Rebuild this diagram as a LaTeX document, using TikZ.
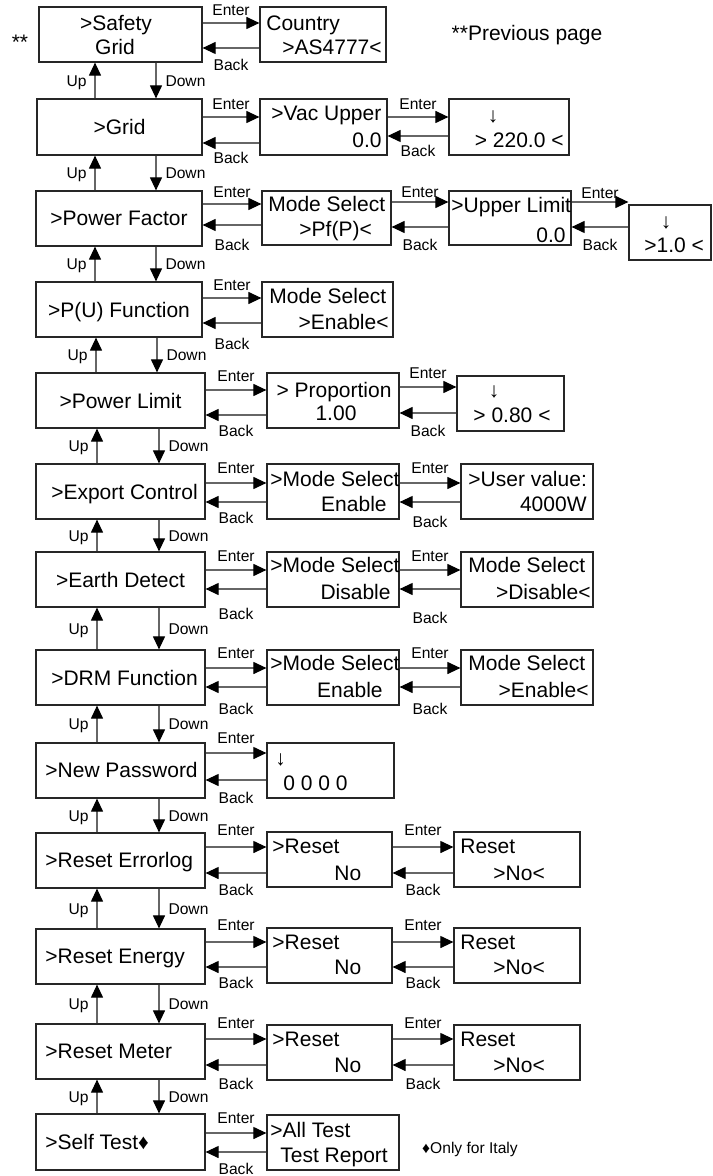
\documentclass[tikz,border=0pt]{standalone}
\usepackage{fontspec}
\setmainfont{Liberation Sans}
\usetikzlibrary{arrows.meta,fit}

\tikzset{
  menubox/.style={draw=black!85,line width=0.6pt,inner sep=0pt,fit={#1}},
  txt/.style={font=\fontsize{10.5}{12}\selectfont,inner sep=0pt,text height=7.5pt,text depth=0pt},
  keylbl/.style={font=\fontsize{7.8}{9}\selectfont,inner sep=0pt,text height=5.6pt,text depth=0pt},
  nav/.style={draw=black!60,line width=0.55pt,-{Triangle[length=6.5pt,width=6pt,color=black]}},
}

\begin{document}
\begin{tikzpicture}[x=0.5pt,y=-0.5pt]
\useasboundingbox (0,0) rectangle (712,1176);
% menu column
\node[menubox={(39,7)(202,62)}] (L1) {};
\node[menubox={(37,99)(202,155)}] (L2) {};
\node[menubox={(36,191)(202,246)}] (L3) {};
\node[menubox={(36,282)(202,337)}] (L4) {};
\node[menubox={(36,373)(205,428)}] (L5) {};
\node[menubox={(36,464)(205,519)}] (L6) {};
\node[menubox={(36,552)(205,607)}] (L7) {};
\node[menubox={(36,650)(205,705)}] (L8) {};
\node[menubox={(36,743)(205,798)}] (L9) {};
\node[menubox={(36,833)(205,888)}] (L10) {};
\node[menubox={(36,929)(205,984)}] (L11) {};
\node[menubox={(36,1024)(205,1079)}] (L12) {};
\node[menubox={(36,1114)(205,1170)}] (L13) {};
\node[txt] (L1a) at (116,23) {>Safety};
\node[txt] (L1b) at (115,47) {Grid};
\node[txt] (L2t) at (L2.center) {>Grid};
\node[txt] (L3t) at (L3.center) {>Power Factor};
\node[txt] (L4t) at (L4.center) {>P(U) Function};
\node[txt] (L5t) at (L5.center) {>Power Limit};
\node[txt] (L6t) at ([xshift=2pt]L6.center) {>Export Control};
\node[txt] (L7t) at (L7.center) {>Earth Detect};
\node[txt] (L8t) at ([xshift=2pt]L8.center) {>DRM Function};
\node[txt,anchor=west] (L9t) at (45,770) {>New Password};
\node[txt,anchor=west] (L10t) at (45,860) {>Reset Errorlog};
\node[txt,anchor=west] (L11t) at (45,956) {>Reset Energy};
\node[txt,anchor=west] (L12t) at (45,1051) {>Reset Meter};
\node[txt,anchor=west] (L13t) at (45,1142) {>Self Test♦};
\node[txt] (star) at (20,42) {**};
\node[txt] (prev) at (527,33) {**Previous page};
\node[keylbl] (italy) at (470,1148) {♦Only for Italy};

% sub screens
\node[menubox={(260,7)(386,62)}] (M1) {};
\node[txt,anchor=west] (M1a) at (266,23) {Country};
\node[txt,anchor=west] (M1b) at (282,47) {>AS4777<};
\node[menubox={(260,99)(387,155)}] (M2) {};
\node[txt,anchor=west] (M2a) at (271,113) {>Vac Upper};
\node[txt,anchor=east] (M2b) at (382,140) {0.0};
\node[menubox={(449,99)(569,155)}] (R2) {};
\node[txt] (R2a) at (493,115) {↓};
\node[txt,anchor=east] (R2b) at (564,140) {> 220.0 <};
\node[menubox={(262,191)(391,245)}] (M3) {};
\node[txt,anchor=west] (M3a) at (268,204) {Mode Select};
\node[txt,anchor=west] (M3b) at (299,229) {>Pf(P)<};
\node[menubox={(449,191)(571,245)}] (R3) {};
\node[txt,anchor=west] (R3a) at (451,205) {>Upper Limit};
\node[txt,anchor=east] (R3b) at (566,235) {0.0};
\node[menubox={(629,205)(711,260)}] (S3) {};
\node[txt] (S3a) at (666,221) {↓};
\node[txt,anchor=west] (S3b) at (644,245) {>1.0 <};
\node[menubox={(262,282)(393,337)}] (M4) {};
\node[txt,anchor=west] (M4a) at (269,296) {Mode Select};
\node[txt,anchor=east] (M4b) at (389,322) {>Enable<};
\node[menubox={(267,373)(399,428)}] (M5) {};
\node[txt] (M5a) at (334,390) {> Proportion};
\node[txt] (M5b) at (336,413) {1.00};
\node[menubox={(457,376)(564,431)}] (R5) {};
\node[txt] (R5a) at (494,390) {↓};
\node[txt] (R5b) at (512,415) {> 0.80 <};
\node[menubox={(267,464)(399,519)}] (M6) {};
\node[txt,anchor=west] (M6a) at (270,479) {>Mode Select};
\node[txt,anchor=east] (M6b) at (387,504) {Enable};
\node[menubox={(461,464)(593,519)}] (R6) {};
\node[txt,anchor=west] (R6a) at (468,479) {>User value:};
\node[txt,anchor=east] (R6b) at (587,504) {4000W};
\node[menubox={(267,552)(399,607)}] (M7) {};
\node[txt,anchor=west] (M7a) at (270,565) {>Mode Select};
\node[txt,anchor=east] (M7b) at (391,592) {Disable};
\node[menubox={(461,552)(593,607)}] (R7) {};
\node[txt,anchor=west] (R7a) at (468,565) {Mode Select};
\node[txt,anchor=east] (R7b) at (591,592) {>Disable<};
\node[menubox={(267,650)(399,705)}] (M8) {};
\node[txt,anchor=west] (M8a) at (270,663) {>Mode Select};
\node[txt,anchor=east] (M8b) at (383,690) {Enable};
\node[menubox={(461,650)(593,705)}] (R8) {};
\node[txt,anchor=west] (R8a) at (468,663) {Mode Select};
\node[txt,anchor=east] (R8b) at (589,690) {>Enable<};
\node[menubox={(267,743)(394,798)}] (M9) {};
\node[txt,anchor=west] (M9a) at (275,758) {↓};
\node[txt,anchor=west] (M9b) at (283,783) {0 0 0 0};
\node[menubox={(267,832)(392,887)}] (M10) {};
\node[txt,anchor=west] (M10a) at (272,846) {>Reset};
\node[txt,anchor=west] (M10b) at (334,873) {No};
\node[menubox={(454,832)(580,887)}] (R10) {};
\node[txt,anchor=west] (R10a) at (460,846) {Reset};
\node[txt,anchor=west] (R10b) at (493,873) {>No<};
\node[menubox={(267,928)(392,983)}] (M11) {};
\node[txt,anchor=west] (M11a) at (272,942) {>Reset};
\node[txt,anchor=west] (M11b) at (334,967) {No};
\node[menubox={(454,928)(580,983)}] (R11) {};
\node[txt,anchor=west] (R11a) at (460,942) {Reset};
\node[txt,anchor=west] (R11b) at (493,967) {>No<};
\node[menubox={(267,1025)(392,1080)}] (M12) {};
\node[txt,anchor=west] (M12a) at (272,1039) {>Reset};
\node[txt,anchor=west] (M12b) at (334,1065) {No};
\node[menubox={(454,1025)(580,1080)}] (R12) {};
\node[txt,anchor=west] (R12a) at (460,1039) {Reset};
\node[txt,anchor=west] (R12b) at (493,1065) {>No<};
\node[menubox={(267,1115)(399,1170)}] (M13) {};
\node[txt,anchor=west] (M13a) at (270,1130) {>All Test};
\node[txt,anchor=west] (M13b) at (280,1155) {Test Report};

% up / down
\draw[nav] (L2.north -| 95,0) -- node[keylbl,left=4pt]{Up} (L1.south -| 95,0);
\draw[nav] (L1.south -| 156,0) -- node[keylbl,right=4.5pt]{Down} (L2.north -| 156,0);
\draw[nav] (L3.north -| 95,0) -- node[keylbl,left=4pt]{Up} (L2.south -| 95,0);
\draw[nav] (L2.south -| 156,0) -- node[keylbl,right=4.5pt]{Down} (L3.north -| 156,0);
\draw[nav] (L4.north -| 95,0) -- node[keylbl,left=4pt]{Up} (L3.south -| 95,0);
\draw[nav] (L3.south -| 156,0) -- node[keylbl,right=4.5pt]{Down} (L4.north -| 156,0);
\draw[nav] (L5.north -| 96,0) -- node[keylbl,left=4pt]{Up} (L4.south -| 96,0);
\draw[nav] (L4.south -| 157,0) -- node[keylbl,right=4.5pt]{Down} (L5.north -| 157,0);
\draw[nav] (L6.north -| 97,0) -- node[keylbl,left=4pt]{Up} (L5.south -| 97,0);
\draw[nav] (L5.south -| 159,0) -- node[keylbl,right=4.5pt]{Down} (L6.north -| 159,0);
\draw[nav] (L7.north -| 97,0) -- node[keylbl,left=4pt]{Up} (L6.south -| 97,0);
\draw[nav] (L6.south -| 159,0) -- node[keylbl,right=4.5pt]{Down} (L7.north -| 159,0);
\draw[nav] (L8.north -| 97,0) -- node[keylbl,left=4pt]{Up} (L7.south -| 97,0);
\draw[nav] (L7.south -| 159,0) -- node[keylbl,right=4.5pt]{Down} (L8.north -| 159,0);
\draw[nav] (L9.north -| 97,0) -- node[keylbl,left=4pt]{Up} (L8.south -| 97,0);
\draw[nav] (L8.south -| 159,0) -- node[keylbl,right=4.5pt]{Down} (L9.north -| 159,0);
\draw[nav] (L10.north -| 97,0) -- node[keylbl,left=4pt]{Up} (L9.south -| 97,0);
\draw[nav] (L9.south -| 159,0) -- node[keylbl,right=4.5pt]{Down} (L10.north -| 159,0);
\draw[nav] (L11.north -| 97,0) -- node[keylbl,left=4pt]{Up} (L10.south -| 97,0);
\draw[nav] (L10.south -| 159,0) -- node[keylbl,right=4.5pt]{Down} (L11.north -| 159,0);
\draw[nav] (L12.north -| 97,0) -- node[keylbl,left=4pt]{Up} (L11.south -| 97,0);
\draw[nav] (L11.south -| 159,0) -- node[keylbl,right=4.5pt]{Down} (L12.north -| 159,0);
\draw[nav] (L13.north -| 97,0) -- node[keylbl,left=4pt]{Up} (L12.south -| 97,0);
\draw[nav] (L12.south -| 159,0) -- node[keylbl,right=4.5pt]{Down} (L13.north -| 159,0);

% enter / back
\draw[nav] (L1.east |- 0,23) -- node[keylbl,above=3.7pt]{Enter} (M1.west |- 0,23);
\draw[nav] (M1.west |- 0,48) -- node[keylbl,below=5.2pt]{Back} (L1.east |- 0,48);
\draw[nav] (L2.east |- 0,117) -- node[keylbl,above=3.7pt]{Enter} (M2.west |- 0,117);
\draw[nav] (M2.west |- 0,143) -- node[keylbl,below=4.2pt]{Back} (L2.east |- 0,143);
\draw[nav] (M2.east |- 0,117) -- node[keylbl,above=3.7pt]{Enter} (R2.west |- 0,117);
\draw[nav] (R2.west |- 0,136) -- node[keylbl,below=4.2pt]{Back} (M2.east |- 0,136);
\draw[nav] (L3.east |- 0,204) -- node[keylbl,above=3.2pt]{Enter} (M3.west |- 0,204);
\draw[nav] (M3.west |- 0,225) -- node[keylbl,below=6.7pt]{Back} (L3.east |- 0,225);
\draw[nav] (M3.east |- 0,202) -- node[keylbl,above=2.2pt]{Enter} (R3.west |- 0,202);
\draw[nav] (R3.west |- 0,227) -- node[keylbl,below=5.7pt]{Back} (M3.east |- 0,227);
\draw[nav] (R3.east |- 0,202) -- node[keylbl,above=1.7pt]{Enter} (S3.west |- 0,202);
\draw[nav] (S3.west |- 0,227) -- node[keylbl,below=5.7pt]{Back} (R3.east |- 0,227);
\draw[nav] (L4.east |- 0,298) -- node[keylbl,above=3.7pt]{Enter} (M4.west |- 0,298);
\draw[nav] (M4.west |- 0,323) -- node[keylbl,below=7.2pt]{Back} (L4.east |- 0,323);
\draw[nav] (L5.east |- 0,390) -- node[keylbl,above=4.2pt]{Enter} (M5.west |- 0,390);
\draw[nav] (M5.west |- 0,415) -- node[keylbl,below=4.7pt]{Back} (L5.east |- 0,415);
\draw[nav] (M5.east |- 0,387) -- node[keylbl,above=4.2pt]{Enter} (R5.west |- 0,387);
\draw[nav] (R5.west |- 0,413) -- node[keylbl,below=5.7pt]{Back} (M5.east |- 0,413);
\draw[nav] (L6.east |- 0,483) -- node[keylbl,above=4.7pt]{Enter} (M6.west |- 0,483);
\draw[nav] (M6.west |- 0,502) -- node[keylbl,below=4.7pt]{Back} (L6.east |- 0,502);
\draw[nav] (M6.east |- 0,483) -- node[keylbl,above=4.7pt]{Enter} (R6.west |- 0,483);
\draw[nav] (R6.west |- 0,502) -- node[keylbl,below=6.7pt]{Back} (M6.east |- 0,502);
\draw[nav] (L7.east |- 0,570) -- node[keylbl,above=4.2pt]{Enter} (M7.west |- 0,570);
\draw[nav] (M7.west |- 0,589) -- node[keylbl,below=9.2pt]{Back} (L7.east |- 0,589);
\draw[nav] (M7.east |- 0,570) -- node[keylbl,above=4.2pt]{Enter} (R7.west |- 0,570);
\draw[nav] (R7.west |- 0,589) -- node[keylbl,below=11.2pt]{Back} (M7.east |- 0,589);
\draw[nav] (L8.east |- 0,668) -- node[keylbl,above=4.7pt]{Enter} (M8.west |- 0,668);
\draw[nav] (M8.west |- 0,687) -- node[keylbl,below=7.7pt]{Back} (L8.east |- 0,687);
\draw[nav] (M8.east |- 0,668) -- node[keylbl,above=4.7pt]{Enter} (R8.west |- 0,668);
\draw[nav] (R8.west |- 0,687) -- node[keylbl,below=7.7pt]{Back} (M8.east |- 0,687);
\draw[nav] (L9.east |- 0,753) -- node[keylbl,above=4.7pt]{Enter} (M9.west |- 0,753);
\draw[nav] (M9.west |- 0,780) -- node[keylbl,below=5.7pt]{Back} (L9.east |- 0,780);
\draw[nav] (L10.east |- 0,847) -- node[keylbl,above=5.7pt]{Enter} (M10.west |- 0,847);
\draw[nav] (M10.west |- 0,873) -- node[keylbl,below=5.2pt]{Back} (L10.east |- 0,873);
\draw[nav] (M10.east |- 0,847) -- node[keylbl,above=5.7pt]{Enter} (R10.west |- 0,847);
\draw[nav] (R10.west |- 0,873) -- node[keylbl,below=5.2pt]{Back} (M10.east |- 0,873);
\draw[nav] (L11.east |- 0,942) -- node[keylbl,above=5.7pt]{Enter} (M11.west |- 0,942);
\draw[nav] (M11.west |- 0,967) -- node[keylbl,below=4.7pt]{Back} (L11.east |- 0,967);
\draw[nav] (M11.east |- 0,942) -- node[keylbl,above=5.7pt]{Enter} (R11.west |- 0,942);
\draw[nav] (R11.west |- 0,967) -- node[keylbl,below=4.7pt]{Back} (M11.east |- 0,967);
\draw[nav] (L12.east |- 0,1039) -- node[keylbl,above=5.2pt]{Enter} (M12.west |- 0,1039);
\draw[nav] (M12.west |- 0,1065) -- node[keylbl,below=6.2pt]{Back} (L12.east |- 0,1065);
\draw[nav] (M12.east |- 0,1039) -- node[keylbl,above=5.2pt]{Enter} (R12.west |- 0,1039);
\draw[nav] (R12.west |- 0,1065) -- node[keylbl,below=6.2pt]{Back} (M12.east |- 0,1065);
\draw[nav] (L13.east |- 0,1133) -- node[keylbl,above=4.7pt]{Enter} (M13.west |- 0,1133);
\draw[nav] (M13.west |- 0,1152) -- node[keylbl,below=5.4pt]{Back} (L13.east |- 0,1152);
\end{tikzpicture}
\end{document}
